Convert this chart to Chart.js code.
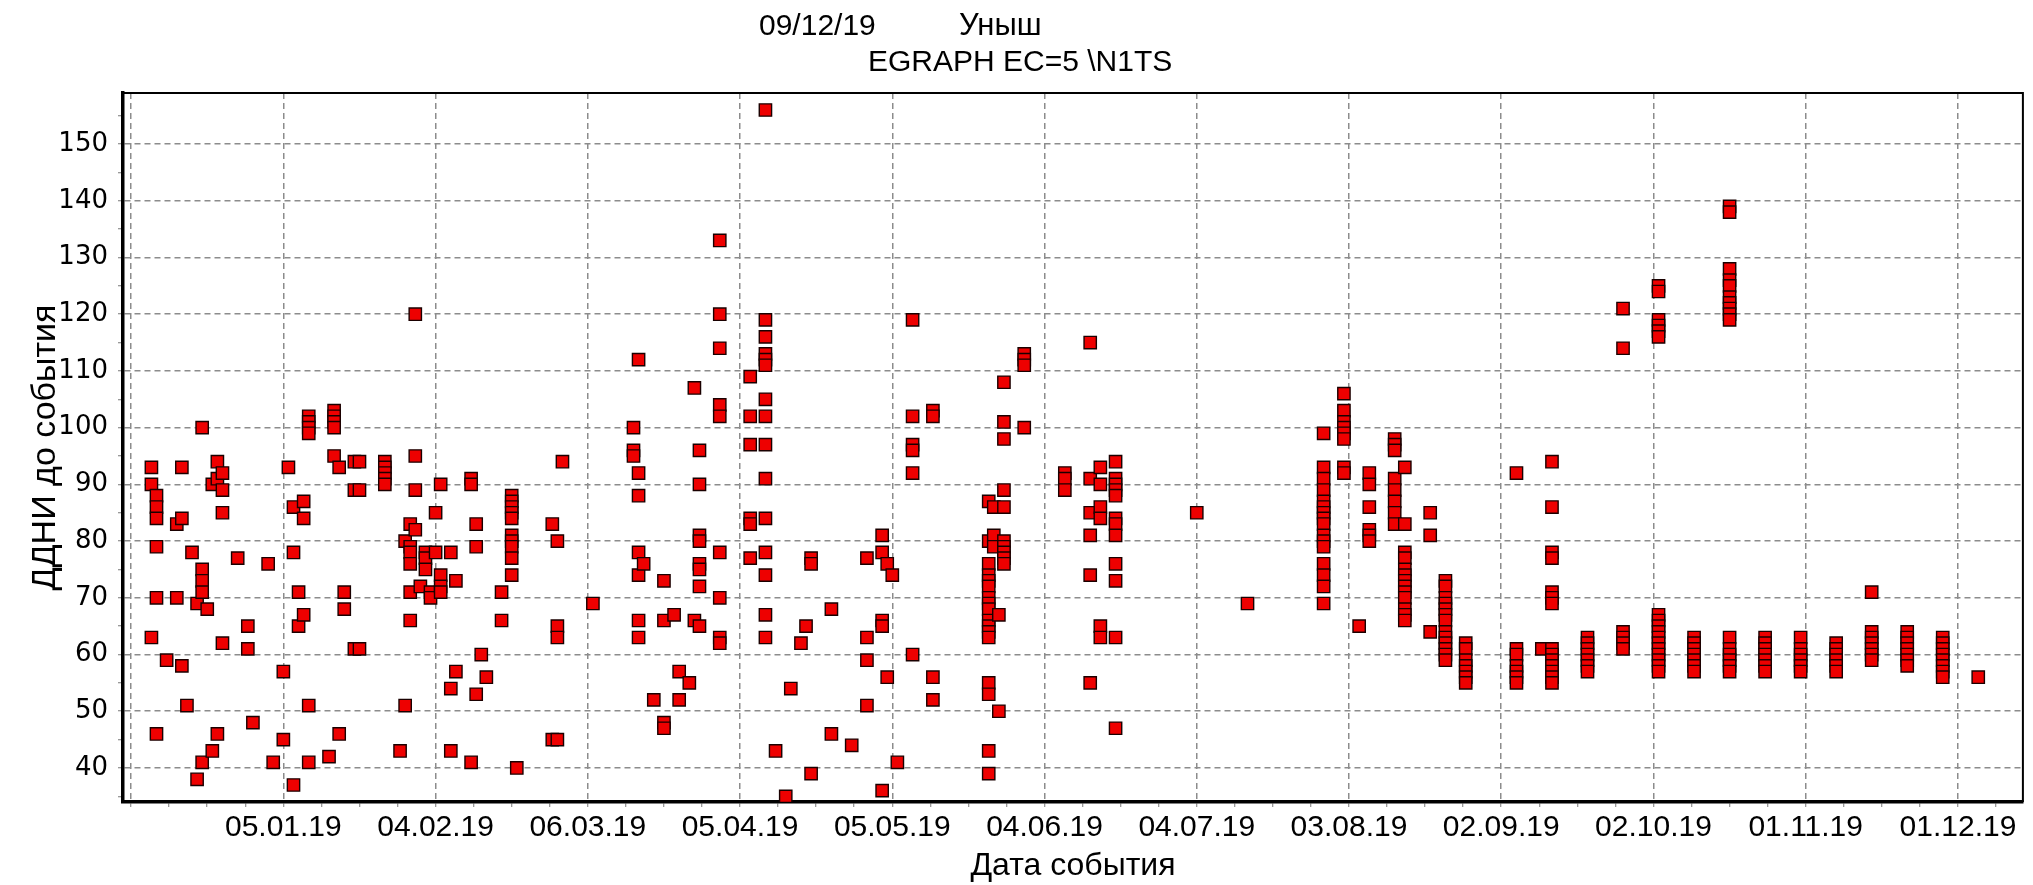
<!DOCTYPE html>
<html>
<head>
<meta charset="utf-8">
<script src="https://cdn.jsdelivr.net/npm/chart.js@4"></script>
<style>
  html, body { margin: 0; padding: 0; background: #fff; }
  #wrap { position: relative; width: 2033px; height: 885px; }
  .head { position: absolute; font-family: 'Liberation Sans', Arial, sans-serif; font-size: 30px; line-height: 30px; color: #000; white-space: pre; }
</style>
</head>
<body>
<div id="wrap">
  <canvas id="chart" width="2033" height="885"></canvas>
  <div class="head" style="left:759px;top:10px">09/12/19</div>
  <div class="head" style="left:959px;top:10px;font-size:31px">Уныш</div>
  <div class="head" style="left:868px;top:46px">EGRAPH EC=5 \N1TS</div>
</div>
<script>
'use strict';

// даты событий (дд.мм.гг)
const eventDates = [
  '10.12.18', '11.12.18', '13.12.18', '15.12.18', '16.12.18', '17.12.18', '18.12.18', '19.12.18',
  '20.12.18', '21.12.18', '22.12.18', '23.12.18', '24.12.18', '27.12.18', '29.12.18', '30.12.18',
  '02.01.19', '03.01.19', '05.01.19', '06.01.19', '07.01.19', '08.01.19', '09.01.19', '10.01.19',
  '14.01.19', '15.01.19', '16.01.19', '17.01.19', '19.01.19', '20.01.19', '25.01.19', '28.01.19',
  '29.01.19', '30.01.19', '31.01.19', '01.02.19', '02.02.19', '03.02.19', '04.02.19', '05.02.19',
  '07.02.19', '08.02.19', '11.02.19', '12.02.19', '13.02.19', '14.02.19', '17.02.19', '19.02.19',
  '20.02.19', '27.02.19', '28.02.19', '01.03.19', '07.03.19', '15.03.19', '16.03.19', '17.03.19',
  '19.03.19', '21.03.19', '23.03.19', '24.03.19', '26.03.19', '27.03.19', '28.03.19', '01.04.19',
  '07.04.19', '10.04.19', '12.04.19', '14.04.19', '15.04.19', '17.04.19', '18.04.19', '19.04.19',
  '23.04.19', '27.04.19', '30.04.19', '03.05.19', '04.05.19', '05.05.19', '06.05.19', '09.05.19',
  '13.05.19', '24.05.19', '25.05.19', '26.05.19', '27.05.19', '31.05.19', '08.06.19', '13.06.19',
  '15.06.19', '18.06.19', '04.07.19', '14.07.19', '29.07.19', '02.08.19', '05.08.19', '07.08.19',
  '12.08.19', '14.08.19', '19.08.19', '22.08.19', '26.08.19', '05.09.19', '10.09.19', '12.09.19',
  '19.09.19', '26.09.19', '03.10.19', '10.10.19', '17.10.19', '24.10.19', '31.10.19', '07.11.19',
  '14.11.19', '21.11.19', '28.11.19', '05.12.19'
];

// ДДНИ до события для каждой даты
const ddniValues = [
  [93, 90, 63], [88, 86, 84, 79, 70, 46], [59], [83, 70], [93, 84, 58], [51], [78], [69, 38],
  [100, 75, 73, 71, 41], [68], [90, 43], [94, 91, 46], [92, 89, 85, 62], [77], [65, 61], [48],
  [76], [41], [57, 45], [93], [86, 78, 37], [71, 65], [87, 84, 67], [102, 101, 100, 99, 51, 41],
  [42], [103, 102, 101, 100, 95], [93, 46], [71, 68], [94, 89, 61], [94, 89, 61], [94, 93, 92, 91, 90], [43],
  [80, 51], [83, 79, 78, 76, 71, 66], [120, 95, 89, 82], [72], [78, 77, 75], [71, 70], [85, 78], [90, 74, 72, 71],
  [78, 54, 43], [73, 57], [91, 90, 41], [83, 79, 53], [60], [56], [71, 66], [88, 87, 86, 85, 84, 81, 80, 79, 77, 74],
  [40], [83, 45], [80, 65, 63, 45], [94], [69], [100, 96, 95], [112, 92, 88, 78, 74, 66, 63], [76],
  [52], [73, 66, 48, 47], [67], [57, 52], [55], [107, 66], [96, 90, 81, 80, 76, 75, 72, 65], [133, 120, 114, 104, 102, 78, 70, 63, 62],
  [109, 102, 97, 84, 83, 77], [156, 119, 116, 113, 112, 111, 105, 102, 97, 91, 84, 78, 74, 67, 63], [43], [35], [54], [62], [65], [77, 76, 39],
  [68, 46], [44], [77, 63, 59, 51], [81, 78, 66, 65, 36], [76, 56], [74], [41], [119, 102, 97, 96, 92, 60],
  [103, 102, 56, 52], [87, 80, 76, 74, 73, 72, 70, 69, 68, 66, 65, 64, 63, 55, 53, 43, 39], [86, 81, 79], [67, 50],
  [108, 101, 98, 89, 86, 80, 79, 78, 77, 76], [113, 112, 111, 100], [92, 91, 89], [115, 91, 85, 81, 74, 55],
  [93, 90, 86, 84, 65, 63], [94, 91, 90, 89, 88, 84, 83, 81, 76, 73, 63, 47], [85], [69],
  [99, 93, 91, 89, 87, 86, 85, 84, 83, 81, 80, 79, 76, 74, 72, 69], [106, 103, 101, 100, 99, 98, 93, 92], [65], [92, 90, 86, 82, 81, 80],
  [98, 97, 96, 91, 89, 87, 85, 83], [93, 83, 78, 77, 75, 74, 73, 72, 71, 70, 68, 67, 66], [85, 81, 64],
  [73, 72, 70, 69, 68, 67, 66, 64, 63, 62, 61, 60, 59], [62, 61, 59, 58, 57, 56, 55], [92, 61, 60, 58, 57, 56, 55], [61],
  [94, 86, 78, 77, 71, 70, 69, 61, 60, 59, 58, 57, 56, 55],
  [63, 62, 61, 60, 59, 58, 57], [121, 114, 64, 63, 62, 61], [125, 124, 119, 118, 117, 116, 67, 66, 65, 64, 63, 62, 61, 60, 59, 58, 57],
  [63, 62, 61, 60, 59, 58, 57], [139, 138, 128, 126, 125, 123, 122, 121, 120, 119, 63, 61, 60, 59, 58, 57],
  [63, 62, 61, 60, 59, 58, 57], [63, 61, 60, 59, 58, 57], [62, 61, 60, 59, 58, 57],
  [71, 64, 63, 62, 61, 60, 59], [64, 63, 62, 61, 60, 59, 58], [63, 62, 61, 60, 59, 58, 57, 56], [56]
];

// подписи оси X
const xTickLabels = ['05.01.19', '04.02.19', '06.03.19', '05.04.19', '05.05.19', '04.06.19',
  '04.07.19', '03.08.19', '02.09.19', '02.10.19', '01.11.19', '01.12.19'];
const xOrigin = '06.12.18';

const parseDay = s => {
  const [d, m, y] = s.split('.').map(Number);
  return Date.UTC(2000 + y, m - 1, d) / 86400000;
};
const dayOf = s => parseDay(s) - parseDay(xOrigin);

const points = [];
eventDates.forEach((d, i) => {
  ddniValues[i].forEach(v => points.push({ x: dayOf(d), y: v }));
});
const labelDays = xTickLabels.map(dayOf);

const GRID = '#8c8c8c';
const frame = {
  id: 'frame',
  afterDraw(chart) {
    const { ctx, chartArea: a } = chart;
    ctx.save();
    ctx.strokeStyle = '#000';
    ctx.lineWidth = 2;
    ctx.beginPath();
    ctx.moveTo(a.left, a.top);
    ctx.lineTo(a.right, a.top);
    ctx.lineTo(a.right, a.bottom);
    ctx.stroke();
    ctx.restore();
  }
};

new Chart(document.getElementById('chart'), {
  type: 'scatter',
  data: {
    datasets: [{
      data: points,
      pointStyle: 'rect',
      pointRadius: 8.7,
      pointHoverRadius: 8.7,
      backgroundColor: '#ee0000',
      borderColor: '#1a0000',
      borderWidth: 1.4
    }]
  },
  options: {
    responsive: false,
    animation: false,
    devicePixelRatio: 1,
    layout: { padding: { top: 93, right: 3, bottom: 0, left: 0 } },
    plugins: { legend: { display: false }, tooltip: { enabled: false } },
    scales: {
      x: {
        type: 'linear',
        min: -1.6,
        max: 372.8,
        afterBuildTicks: axis => {
          const t = [];
          for (let v = 0; v <= 372; v += 7.5) t.push({ value: v });
          axis.ticks = t;
        },
        afterFit: s => { s.height = 83; },
        ticks: {
          autoSkip: false,
          maxRotation: 0,
          padding: 3,
          color: '#000',
          font: { family: "'Liberation Sans', Arial, sans-serif", size: 30 },
          callback: v => {
            const i = labelDays.indexOf(v);
            return i >= 0 ? xTickLabels[i] : '';
          }
        },
        grid: {
          color: c => (c.tick && c.tick.value % 30 === 0 ? GRID : 'rgba(0,0,0,0)'),
          lineWidth: 1.5,
          tickColor: '#777',
          tickLength: 5,
          tickWidth: 1
        },
        border: { display: true, color: '#000', width: 3.5, dash: [6, 4] },
        title: {
          display: true,
          text: 'Дата события',
          color: '#000',
          font: { family: "'Liberation Sans', Arial, sans-serif", size: 32 },
          padding: { top: 0, bottom: 0 }
        }
      },
      y: {
        min: 34,
        max: 159,
        afterBuildTicks: axis => {
          const t = [];
          for (let v = 35; v <= 155; v += 5) t.push({ value: v });
          axis.ticks = t;
        },
        afterFit: s => { s.width = 123; },
        ticks: {
          autoSkip: false,
          padding: 10,
          color: '#000',
          font: { family: "'DejaVu Sans', sans-serif", size: 26 },
          callback: v => (v % 10 === 0 ? String(v) : '')
        },
        grid: {
          color: c => (c.tick && c.tick.value % 10 === 0 ? GRID : 'rgba(0,0,0,0)'),
          lineWidth: 1.5,
          tickColor: '#777',
          tickLength: 5,
          tickWidth: 1
        },
        border: { display: true, color: '#000', width: 3.5, dash: [6, 4] },
        title: {
          display: true,
          text: 'ДДНИ до события',
          color: '#000',
          font: { family: "'Liberation Sans', Arial, sans-serif", size: 34 },
          padding: { top: 25, bottom: 0 }
        }
      }
    }
  },
  plugins: [frame]
});
</script>
</body>
</html>
